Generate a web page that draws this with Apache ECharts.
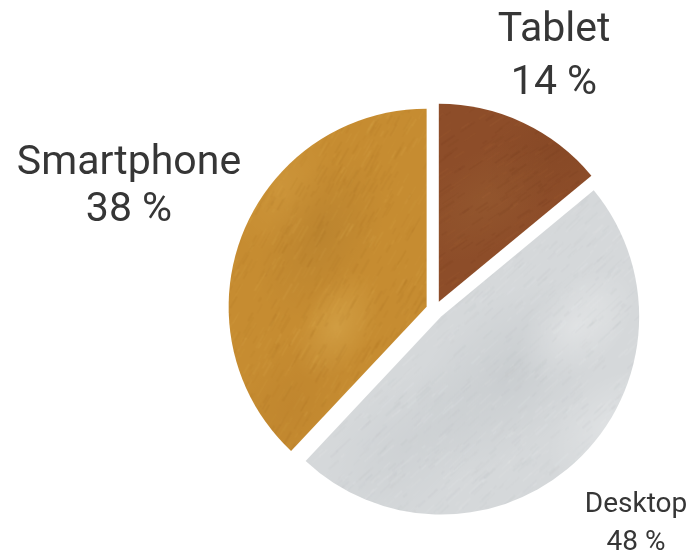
<!DOCTYPE html>
<html>
<head>
<meta charset="utf-8">
<script src="https://cdn.jsdelivr.net/npm/echarts@6/dist/echarts.min.js"></script>
<style>
html,body{margin:0;padding:0;background:#fff;}
#main{width:692px;height:554px;}
</style>
</head>
<body>
<div id="main"></div>
<script>
// ---- Data ----
const categories = ['Tablet', 'Desktop', 'Smartphone'];
const shares = [14, 48, 38];

// ---- Styling helpers (textures, not data) ----
function makeTexture(base, light, dark, angle, seed, blotches, strokes) {
  const W = 692, H = 554;
  const c = document.createElement('canvas');
  c.width = W; c.height = H;
  const g = c.getContext('2d');
  g.fillStyle = base;
  g.fillRect(0, 0, W, H);
  let s = seed;
  const rnd = () => (s = (s * 16807) % 2147483647) / 2147483647;
  for (let i = 0; i < blotches.length; i++) {
    const b = blotches[i]; // [x, y, r, 'r,g,b', alpha]
    g.save();
    g.translate(b[0], b[1]);
    g.rotate(angle);
    g.scale(1, 0.6);
    const gr = g.createRadialGradient(0, 0, 0, 0, 0, b[2]);
    gr.addColorStop(0, 'rgba(' + b[3] + ',' + b[4] + ')');
    gr.addColorStop(0.55, 'rgba(' + b[3] + ',' + (b[4] * 0.45) + ')');
    gr.addColorStop(1, 'rgba(' + b[3] + ',0)');
    g.fillStyle = gr;
    g.fillRect(-b[2], -b[2], b[2] * 2, b[2] * 2);
    g.restore();
  }
  const dx = Math.cos(angle), dy = Math.sin(angle);
  for (let i = 0; i < strokes; i++) {
    const x = rnd() * W, y = rnd() * H;
    const len = 4 + rnd() * 16;
    g.strokeStyle = rnd() < 0.5 ? light : dark;
    g.globalAlpha = 0.04 + rnd() * 0.09;
    g.lineWidth = 0.8 + rnd() * 1.6;
    g.beginPath();
    g.moveTo(x, y);
    g.lineTo(x + dx * len, y + dy * len);
    g.stroke();
  }
  g.globalAlpha = 1;
  return c;
}

const texTablet = makeTexture('#8d4d29', '#b06d3c', '#6a3318', -0.6, 12345,
  [[480, 210, 80, '165,115,60', 0.22], [560, 150, 90, '105,52,24', 0.18]], 5000);
const texPhone = makeTexture('#c68c31', '#e4b85a', '#9e661d', -1.05, 67891,
  [[330, 240, 90, '150,105,40', 0.22], [345, 330, 60, '235,200,110', 0.28],
   [290, 190, 70, '225,180,90', 0.2], [300, 410, 90, '170,110,35', 0.2]], 6000);
const texDesk = makeTexture('#d5d8da', '#f2f3f4', '#b4b9bc', -0.75, 24680,
  [[500, 370, 120, '175,181,185', 0.3], [570, 320, 70, '250,250,250', 0.35],
   [400, 440, 100, '185,190,194', 0.25], [600, 420, 70, '245,246,247', 0.3]], 6000);

const textures = [texTablet, texDesk, texPhone];
// label placement: [x, nameCenterY, valueCenterY, fontSize]
const labelPlace = [[554, 31, 84, 41], [636, 505, 543, 28], [129, 164, 211, 41]];

const graphics = [];
categories.forEach((name, i) => {
  const p = labelPlace[i];
  const common = { textAlign: 'center', textVerticalAlign: 'middle', fill: '#363636',
    font: p[3] + 'px Roboto' };
  graphics.push({ type: 'text', x: p[0], y: p[1], style: Object.assign({ text: name }, common) });
  graphics.push({ type: 'text', x: p[0], y: p[2], style: Object.assign({ text: shares[i] + ' %' }, common) });
});

const chart = echarts.init(document.getElementById('main'), null, { renderer: 'canvas' });
chart.setOption({
  animation: false,
  backgroundColor: '#ffffff',
  graphic: graphics,
  series: [{
    type: 'pie',
    center: [435, 310],
    radius: 198,
    startAngle: 90,
    clockwise: true,
    selectedMode: 'multiple',
    selectedOffset: 9,
    emphasis: { disabled: true },
    label: { show: false },
    labelLine: { show: false },
    data: categories.map((name, i) => ({
      name: name,
      value: shares[i],
      selected: true,
      itemStyle: { color: { image: textures[i], repeat: 'no-repeat' } }
    }))
  }]
});
</script>
</body>
</html>
